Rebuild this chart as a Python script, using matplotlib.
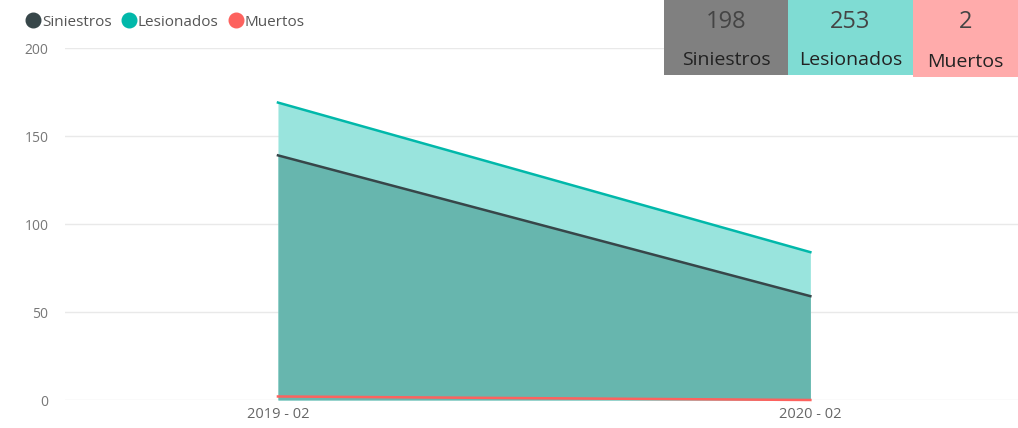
import matplotlib
matplotlib.use('Agg')
import matplotlib.pyplot as plt
from matplotlib.lines import Line2D
from matplotlib.patches import Rectangle

plt.rcParams['font.family'] = ['Open Sans', 'DejaVu Sans']

# datos
periodos = ['2019 - 02', '2020 - 02']
siniestros = [139, 59]
lesionados = [169, 84]
muertos = [2, 0]

tarjetas = ['Siniestros', 'Lesionados', 'Muertos']
totales = [sum(siniestros), sum(lesionados), sum(muertos)]

c_sin = '#374649'
c_les = '#01B8AA'
c_mue = '#FD625E'

W, H = 1018, 428
fig = plt.figure(figsize=(W / 100, H / 100), dpi=100)
ax = fig.add_axes([65 / W, 1 - 400 / H, 1 - 65 / W, (400 - 48) / H])

x = list(range(len(periodos)))
ax.fill_between(x, 0, lesionados, color='#99e4dd', lw=0, zorder=1)
ax.fill_between(x, 0, siniestros, color='#67b6ae', lw=0, zorder=2)
ax.plot(x, lesionados, color=c_les, lw=1.8, zorder=3)
ax.plot(x, siniestros, color=c_sin, lw=1.8, zorder=3)
ax.plot(x, muertos, color=c_mue, lw=1.8, zorder=4, clip_on=False)

ax.set_xlim(-0.4, 1.39)
ax.set_ylim(0, 200)
ax.set_xticks(x)
ax.set_xticklabels(periodos, color='#666666', fontsize=10.5)
ax.set_yticks([0, 50, 100, 150, 200])
ax.tick_params(axis='y', length=0, pad=12, labelcolor='#777777', labelsize=10)
ax.tick_params(axis='x', length=0, pad=5)
ax.grid(axis='y', color='#e9e9e9', lw=1)
ax.set_axisbelow(True)
for s in ax.spines.values():
    s.set_visible(False)

# leyenda
handles = [Line2D([], [], marker='o', ls='', color=c, markersize=10.5)
           for c in (c_sin, c_les, c_mue)]
fig.legend(handles, ['Siniestros', 'Lesionados', 'Muertos'], loc='upper left',
           bbox_to_anchor=(8 / W, 1 - 1 / H), ncol=3, frameon=False,
           handletextpad=-0.15, columnspacing=0.35, fontsize=11,
           labelcolor='#555555', handlelength=1.5)

# tarjetas
cajas = [(664, 788, 75, '#808080', '#444444'),
         (788, 913, 75, '#7fdcd3', '#444444'),
         (913, 1018, 77, '#ffabab', '#444444')]
for (x0, x1, h, fc, tc), nombre, total in zip(cajas, tarjetas, totales):
    fig.patches.append(Rectangle((x0 / W, 1 - h / H), (x1 - x0) / W, h / H,
                                 transform=fig.transFigure, facecolor=fc,
                                 edgecolor='none', zorder=5))
    cx = (x0 + x1) / 2 / W
    fig.text(cx, 1 - 22 / H, str(total), ha='center', va='center',
             fontsize=17, color=tc, zorder=6)
    fig.text(cx, 1 - (60 if nombre != 'Muertos' else 62) / H, nombre,
             ha='center', va='center', fontsize=14, color='#222222', zorder=6)

fig.savefig('out.png', dpi=100)
